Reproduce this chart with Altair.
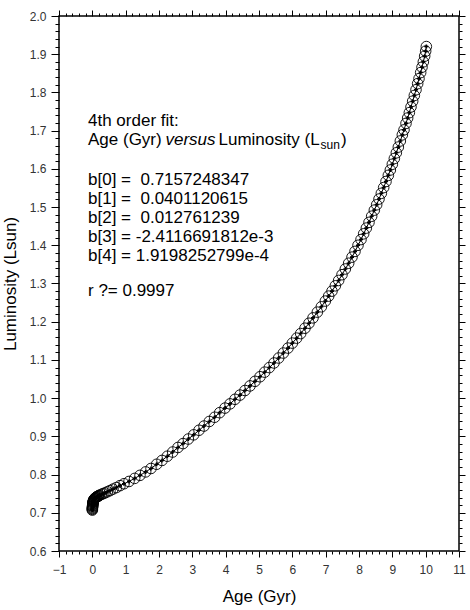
import altair as alt
import pandas as pd

# ---- data ----
ages = [0.0, 0.0, 0.0, 0.003, 0.005, 0.008, 0.01, 0.013, 0.015, 0.018,
        0.02, 0.025, 0.03, 0.035, 0.04, 0.05, 0.06, 0.07, 0.08, 0.095,
        0.11, 0.125, 0.14, 0.16, 0.18, 0.2, 0.22,
        0.27, 0.32, 0.38, 0.45, 0.53, 0.62,
        0.72, 0.83, 0.95, 1.1, 1.27, 1.43, 1.6, 1.76, 1.93, 2.09,
        2.25, 2.41, 2.57, 2.72, 2.88, 3.04, 3.2, 3.35, 3.51, 3.67,
        3.82, 3.98, 4.13, 4.28, 4.43, 4.58, 4.73, 4.88, 5.03, 5.17,
        5.31, 5.45, 5.59, 5.73, 5.87, 6.0, 6.13, 6.25, 6.38, 6.5,
        6.62, 6.75, 6.87, 6.99, 7.09, 7.19, 7.29, 7.39, 7.49, 7.59,
        7.69, 7.79, 7.88, 7.97, 8.06, 8.14, 8.22, 8.3, 8.38, 8.46,
        8.53, 8.6, 8.67, 8.74, 8.81, 8.88, 8.94, 9.0, 9.06, 9.12,
        9.18, 9.24, 9.3, 9.35, 9.41, 9.46, 9.51, 9.56, 9.61, 9.66,
        9.71, 9.76, 9.8, 9.85, 9.89, 9.93, 9.97, 10.0, 10.02]
lum = [0.707, 0.709, 0.711, 0.713, 0.715, 0.717, 0.719, 0.721, 0.723, 0.725,
       0.727, 0.7285, 0.730, 0.7315, 0.733, 0.7345, 0.736, 0.737, 0.738, 0.739,
       0.740, 0.741, 0.742, 0.743, 0.744, 0.745, 0.746,
       0.748, 0.750, 0.752, 0.755, 0.758, 0.762,
       0.766, 0.771, 0.776, 0.782, 0.790, 0.798, 0.807, 0.816, 0.827, 0.837,
       0.848, 0.859, 0.871, 0.881, 0.893, 0.904, 0.916, 0.927, 0.939, 0.950,
       0.962, 0.974, 0.985, 0.997, 1.008, 1.020, 1.032, 1.044, 1.056, 1.068,
       1.080, 1.092, 1.105, 1.118, 1.131, 1.144, 1.157, 1.169, 1.183, 1.196,
       1.210, 1.225, 1.239, 1.254, 1.267, 1.280, 1.294, 1.308, 1.323, 1.338,
       1.353, 1.369, 1.384, 1.400, 1.415, 1.430, 1.445, 1.460, 1.476, 1.492,
       1.506, 1.521, 1.536, 1.551, 1.567, 1.583, 1.597, 1.612, 1.627, 1.642,
       1.657, 1.673, 1.689, 1.702, 1.719, 1.733, 1.747, 1.762, 1.777, 1.792,
       1.807, 1.823, 1.836, 1.852, 1.866, 1.880, 1.895, 1.908, 1.920]

x_major = list(range(-1, 12))
x_minor = [round(-1 + 0.2 * i, 2) for i in range(61) if i % 5 != 0]
y_major = [round(0.6 + 0.1 * i, 2) for i in range(15)]
y_minor = [round(0.6 + 0.02 * i, 3) for i in range(71) if i % 5 != 0]

NB = "\u00a0"
fit_lines = ["b[0] =" + NB + NB + "0.7157248347", "b[1] =" + NB + NB + "0.0401120615",
             "b[2] =" + NB + NB + "0.012761239", "b[3] = -2.4116691812e-3",
             "b[4] = 1.9198252799e-4"]

df = pd.DataFrame({"age": ages, "lum": lum, "idx": range(len(ages))})

FONT = "Liberation Sans"
xs = alt.Scale(domain=[-1, 11], nice=False, zero=False)
ys = alt.Scale(domain=[0.6, 2.0], nice=False, zero=False)


def axis(orient, values, size, **kw):
    base = dict(orient=orient, values=values, tickSize=size, tickColor="black",
                tickWidth=1, domain=False, grid=False, labels=False, title=None)
    base.update(kw)
    return alt.Axis(**base)


label_kw = dict(labels=True, labelFont=FONT, labelFontSize=12, labelColor="#333333",
                labelOverlap=False, labelFlush=False)
title_kw = dict(titleFont=FONT, titleFontSize=17, titleFontWeight="normal", titleColor="black")

circles = alt.Chart(df).mark_point(shape="circle", filled=False, size=112,
                                   color="black", strokeWidth=0.9, opacity=1).encode(
    x=alt.X("age:Q", scale=xs, axis=axis("bottom", x_major, 6, format="d", labelPadding=7,
                                         title="Age (Gyr)", titleY=50, titleBaseline="alphabetic",
                                         **label_kw, **title_kw)),
    y=alt.Y("lum:Q", scale=ys, axis=axis("left", y_major, 8, format=".1f", labelPadding=5,
                                         title="Luminosity (Lsun)", titleAngle=270, titleX=-44,
                                         titleY=267.5, titleAlign="center",
                                         titleBaseline="alphabetic", **label_kw, **title_kw)),
)

line = alt.Chart(df).mark_line(color="black", strokeWidth=1).encode(
    x=alt.X("age:Q", scale=xs, axis=axis("bottom", x_minor, 3)),
    y=alt.Y("lum:Q", scale=ys, axis=axis("left", y_minor, 4)),
    order="idx:Q",
)

crosses = alt.Chart(df).mark_point(shape="cross", filled=True, size=16, color="black",
                                   opacity=1).encode(
    x=alt.X("age:Q", scale=xs, axis=axis("top", x_major, 6)),
    y=alt.Y("lum:Q", scale=ys, axis=axis("right", y_major, 6)),
)

dummy = alt.Chart(df).mark_point(opacity=0).encode(
    x=alt.X("age:Q", scale=xs, axis=axis("top", x_minor, 3)),
    y=alt.Y("lum:Q", scale=ys, axis=axis("right", y_minor, 3)),
)

one = pd.DataFrame({"a": [0]})


def txt(s, x, y, size=17, style="normal"):
    return alt.Chart(one).mark_text(text=s, align="left", baseline="alphabetic", font=FONT,
                                    fontSize=size, fontStyle=style, color="black").encode(
        x=alt.value(x), y=alt.value(y))


texts = [txt("4th order fit:", 29, 110),
         txt("Age (Gyr)", 29, 128.5),
         txt("versus", 106.5, 128.5, style="italic"),
         txt("Luminosity (L", 159.5, 128.5),
         txt("sun", 261.5, 133, size=12),
         txt(")", 282, 128.5)]
for i, s in enumerate(fit_lines):
    texts.append(txt(s, 29, 169 + 19 * i))
texts.append(txt("r ?= 0.9997", 29, 280))

chart = alt.layer(circles, line, crosses, dummy, *texts).resolve_axis(
    x="independent", y="independent"
).properties(
    width=400, height=535,
    padding={"left": 59, "top": 16, "right": 11, "bottom": 59},
    autosize=alt.AutoSizeParams(type="none"),
).configure_view(stroke="black", strokeWidth=1.5)

chart.save("out.html", embed_options={"renderer": "svg", "actions": False})
